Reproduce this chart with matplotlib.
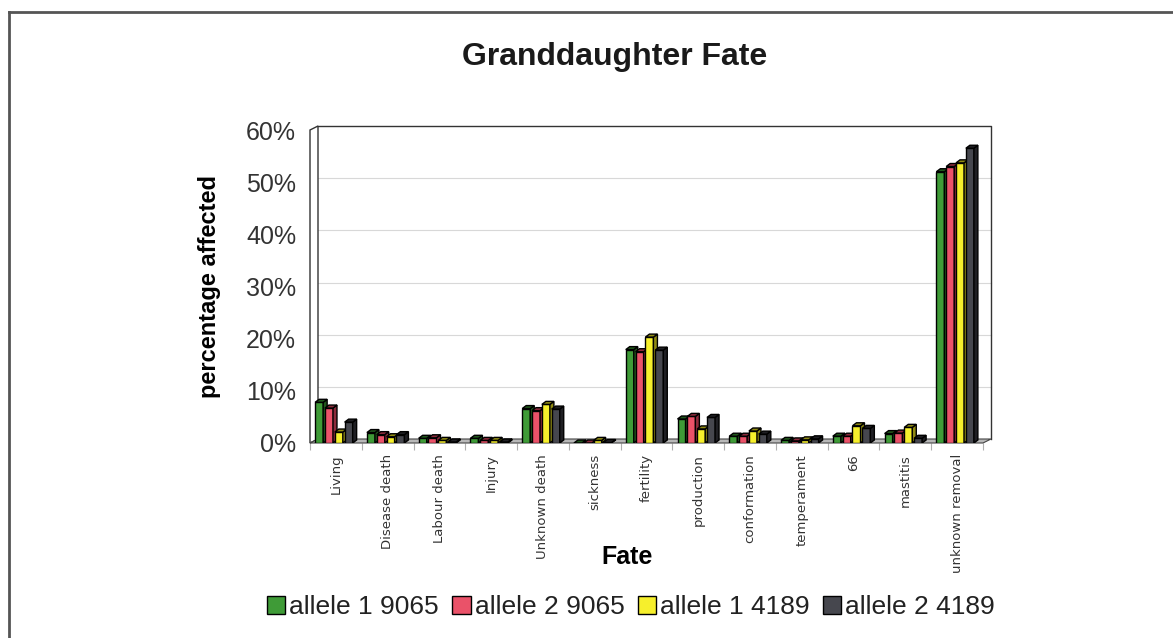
import matplotlib
matplotlib.use('Agg')
import matplotlib.pyplot as plt
from matplotlib.patches import Polygon
from matplotlib.lines import Line2D
import numpy as np

matplotlib.rcParams['font.family'] = 'Liberation Sans'

categories = ['Living', 'Disease death', 'Labour death', 'Injury', 'Unknown death',
              'sickness', 'fertility', 'production', 'conformation', 'temperament',
              '66', 'mastitis', 'unknown removal']

allele1_9065 = [0.078, 0.020, 0.009, 0.009, 0.066, 0.000, 0.179, 0.046, 0.013, 0.005, 0.013, 0.018, 0.520]
allele2_9065 = [0.067, 0.016, 0.010, 0.005, 0.062, 0.000, 0.175, 0.051, 0.013, 0.004, 0.013, 0.019, 0.530]
allele1_4189 = [0.021, 0.012, 0.005, 0.005, 0.074, 0.005, 0.203, 0.027, 0.023, 0.006, 0.033, 0.030, 0.537]
allele2_4189 = [0.040, 0.016, 0.002, 0.002, 0.065, 0.001, 0.178, 0.049, 0.017, 0.008, 0.028, 0.009, 0.565]

series_names = ['allele 1 9065', 'allele 2 9065', 'allele 1 4189', 'allele 2 4189']
series_vals = [allele1_9065, allele2_9065, allele1_4189, allele2_4189]
face_cols = ['#3f9b37', '#ea5269', '#f6ef2c', '#46474e']
side_cols = ['#20571b', '#8c2a3b', '#8f8a12', '#1f1f23']

yticks = [0.0, 0.1, 0.2, 0.3, 0.4, 0.5, 0.6]

W, H = 1173, 638
fig = plt.figure(figsize=(W / 100, H / 100), dpi=100)
# front plane of the plot box, in pixels
x0, x1, y0, y1 = 310, 983, 443, 130
ax = fig.add_axes([x0 / W, (H - y0) / H, (x1 - x0) / W, (y0 - y1) / H])
n = len(categories)
ax.set_xlim(-0.5, n - 0.5)
ax.set_ylim(0, 0.6)
for s in ax.spines.values():
    s.set_visible(False)

# depth of the walls (8 px right, 4 px up)
px_x = n / (x1 - x0)
px_y = 0.6 / (y0 - y1)
DX, DY = 8 * px_x, 4 * px_y
# depth of the bars
BDX, BDY = 4 * px_x, 3 * px_y

# back wall gridlines and frame
for v in yticks[1:-1]:
    ax.plot([-0.5 + DX, n - 0.5 + DX], [v + DY, v + DY], color='#d8d8d8', lw=0.8,
            zorder=1, clip_on=False)
ax.plot([-0.5 + DX, n - 0.5 + DX, n - 0.5 + DX], [0.6 + DY, 0.6 + DY, DY],
        color='#333333', lw=1.0, zorder=1, clip_on=False)
# left wall
ax.add_patch(Polygon([(-0.5, 0), (-0.5, 0.6), (-0.5 + DX, 0.6 + DY), (-0.5 + DX, DY)],
                     closed=True, fc='white', ec='#333333', lw=1.0, zorder=2, clip_on=False))
# floor
ax.add_patch(Polygon([(-0.5, 0), (n - 0.5, 0), (n - 0.5 + DX, DY), (-0.5 + DX, DY)],
                     closed=True, fc='#b8b8b8', ec='#444444', lw=0.8, zorder=2, clip_on=False))

# bars with a small 3d side and top
x = np.arange(n)
bw, step = 0.155, 0.19
for i, (vals, fc, sc) in enumerate(zip(series_vals, face_cols, side_cols)):
    left = x + (i - 1.5) * step - bw / 2 - BDX / 2
    z = 3 + i
    ax.bar(left, vals, width=bw, align='edge', color=fc, edgecolor='black', lw=1.0,
           label=series_names[i], zorder=z)
    for xl, h in zip(left, vals):
        ax.add_patch(Polygon([(xl + bw, 0), (xl + bw + BDX, BDY), (xl + bw + BDX, h + BDY), (xl + bw, h)],
                             closed=True, fc=sc, ec='black', lw=1.0, zorder=z))
        ax.add_patch(Polygon([(xl, h), (xl + bw, h), (xl + bw + BDX, h + BDY), (xl + BDX, h + BDY)],
                             closed=True, fc=sc, ec='black', lw=1.0, zorder=z))

ax.set_yticks(yticks)
ax.set_yticklabels([f'{int(round(v * 100))}%' for v in yticks], fontsize=18, color='#333333')
ax.tick_params(axis='y', length=0, pad=10)
ax.set_xticks(x)
ax.set_xticklabels(categories, rotation=90, fontsize=9.5, color='#333333', family='DejaVu Sans',
                   va='top')
ax.set_xticks(np.arange(-0.5, n, 1.0), minor=True)
ax.tick_params(axis='x', which='major', length=0, pad=8)
ax.tick_params(axis='x', which='minor', length=5, color='#b0b0b0', width=0.8)

ax.set_ylabel('percentage affected', fontsize=17, fontweight='bold', labelpad=18)
fig.text(627 / W, 1 - 557 / H, 'Fate', fontsize=18, fontweight='bold', ha='center', va='center')
fig.text(615 / W, 1 - 57 / H, 'Granddaughter Fate', fontsize=23, fontweight='bold',
         ha='center', va='center', color='#1a1a1a')

ax.legend(loc='center', bbox_to_anchor=(631 / W, 1 - 607 / H), bbox_transform=fig.transFigure,
          ncol=4, frameon=False, fontsize=19, handlelength=0.7, handleheight=0.7,
          handletextpad=0.15, columnspacing=0.5, labelcolor='#222222')

# outer chart border (top and left edges)
fig.add_artist(Line2D([9 / W, 1], [1 - 12 / H, 1 - 12 / H], color='#555555', lw=2))
fig.add_artist(Line2D([9 / W, 9 / W], [0, 1 - 12 / H], color='#555555', lw=2))

fig.savefig('out.png', dpi=100)
